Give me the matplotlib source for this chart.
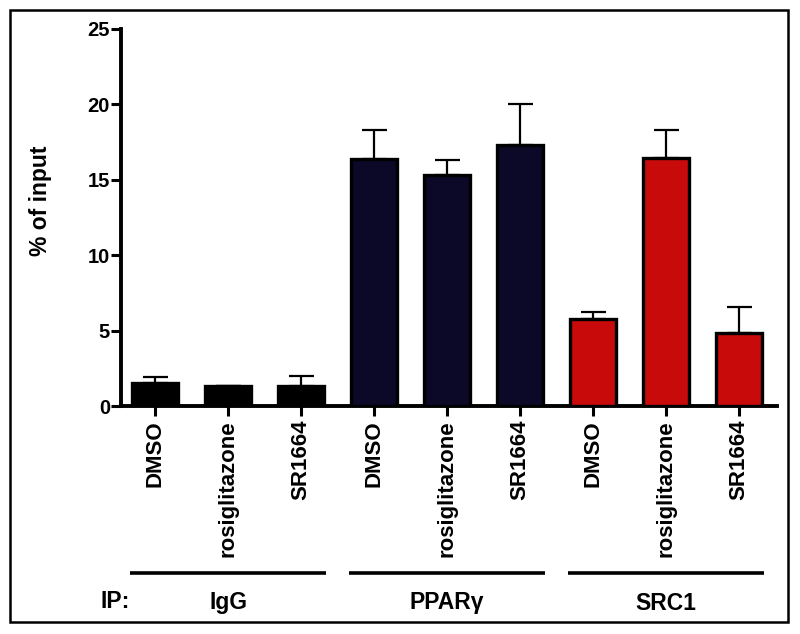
import matplotlib
matplotlib.use("Agg")
import matplotlib.pyplot as plt
import matplotlib.transforms as mtransforms
from matplotlib.patches import Rectangle

plt.rcParams['font.family'] = ['Liberation Sans', 'DejaVu Sans']
plt.rcParams['font.weight'] = 'bold'

treatments = ["DMSO", "rosiglitazone", "SR1664"]
groups = ["IgG", "PPAR\u03b3", "SRC1"]
group_colors = ["#000000", "#0c0828", "#c80a0a"]

igg_values = [1.5, 1.3, 1.35]
igg_err = [0.45, 0.0, 0.65]
ppar_values = [16.36, 15.3, 17.3]
ppar_err = [1.95, 1.0, 2.7]
src1_values = [5.77, 16.47, 4.82]
src1_err = [0.48, 1.83, 1.73]

yticks = [0, 5, 10, 15, 20, 25]

values = igg_values + ppar_values + src1_values
errors = igg_err + ppar_err + src1_err
colors = [c for c in group_colors for _ in treatments]
labels = treatments * len(groups)
x = list(range(len(values)))

fig = plt.figure(figsize=(8.0, 6.34), dpi=100)
fig.patch.set_facecolor("white")
ax = fig.add_axes([121/800, 1-406/634, 656/800, 377/634])

ax.errorbar(x, values, yerr=[[0]*len(values), errors], fmt='none',
            ecolor='black', elinewidth=1.6, capsize=9, capthick=1.6, zorder=2)
ax.bar(x, values, width=0.64, color=colors, edgecolor='black', linewidth=2.4, zorder=3)

ax.set_xlim(-0.466, 8.52)
ax.set_ylim(0, 25)
ax.set_yticks(yticks)
ax.set_yticklabels([str(t) for t in yticks], fontsize=14.5, fontweight='bold')
ax.set_xticks(x)
ax.set_xticklabels(labels, rotation=90, fontsize=16, fontweight='bold', va='top')

for s in ['top', 'right']:
    ax.spines[s].set_visible(False)
for s in ['left', 'bottom']:
    ax.spines[s].set_linewidth(2.8)
ax.tick_params(axis='y', length=7, width=2.2, pad=1)
ax.tick_params(axis='x', length=7, width=2.2, pad=3)
ax.set_facecolor("white")

fig.text(40/800, 1-201/634, "% of input", rotation=90, ha='center', va='center',
         fontsize=16.5, fontweight='bold')

trans = mtransforms.blended_transform_factory(ax.transData, fig.transFigure)
for gi, g in enumerate(groups):
    c = gi * 3 + 1
    ax.plot([c - 1.34, c + 1.34], [1-573/634, 1-573/634], color='black', lw=2.6,
            transform=trans, clip_on=False, solid_capstyle='butt')
    ax.text(c, 1-603/634, g, transform=trans, ha='center', va='center',
            fontsize=16.5, fontweight='bold')

fig.text(115/800, 1-601/634, "IP:", ha='center', va='center', fontsize=16.5, fontweight='bold')

fig.patches.append(Rectangle((10/800, 1-622/634), 778/800, 612/634, transform=fig.transFigure,
                             fill=False, edgecolor='black', linewidth=1.8))

fig.savefig("out.png", dpi=100)
